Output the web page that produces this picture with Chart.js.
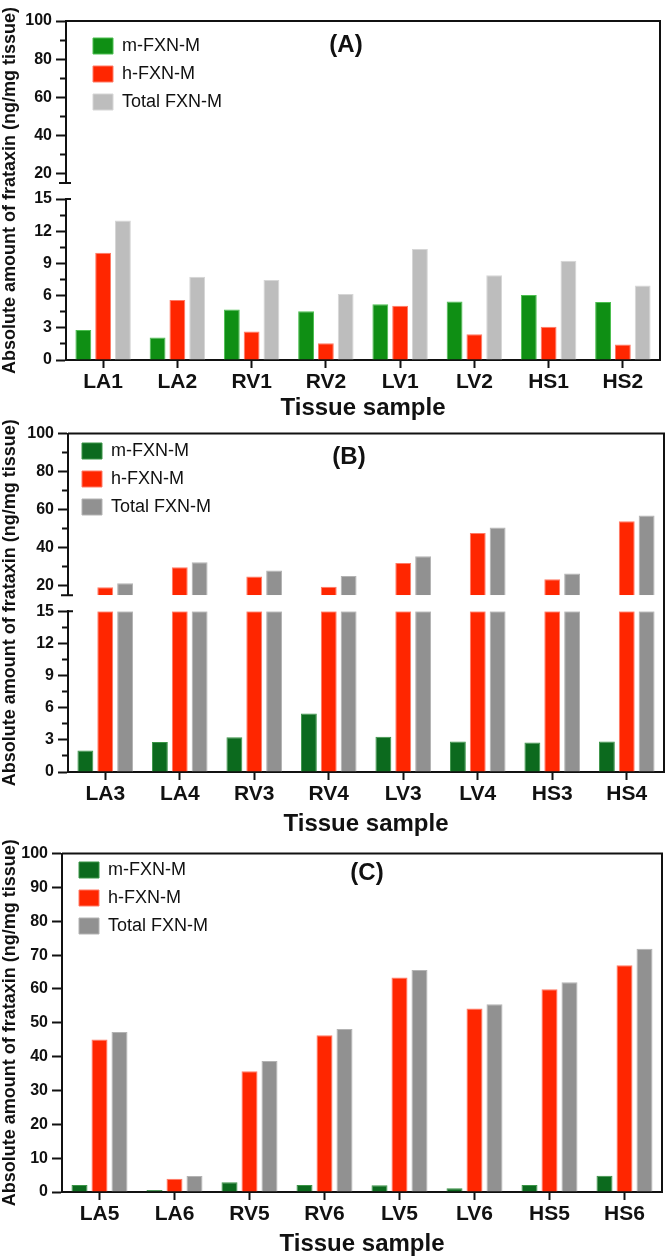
<!DOCTYPE html>
<html>
<head>
<meta charset="utf-8">
<script src="https://cdn.jsdelivr.net/npm/chart.js@4.4.1/dist/chart.umd.min.js"></script>
<style>
  body { margin: 0; background: #fff; }
  canvas { display: block; }
</style>
</head>
<body>
<canvas id="chartA" width="666" height="420"></canvas>
<canvas id="chartB" width="666" height="420"></canvas>
<canvas id="chartC" width="666" height="419"></canvas>
<script>
const seriesNames = ['m-FXN-M', 'h-FXN-M', 'Total FXN-M'];

const tissuesA = ['LA1', 'LA2', 'RV1', 'RV2', 'LV1', 'LV2', 'HS1', 'HS2'];
const mFxnA = [2.8, 2.1, 4.7, 4.55, 5.2, 5.45, 6.05, 5.4];
const hFxnA = [10.0, 5.6, 2.65, 1.55, 5.05, 2.4, 3.1, 1.45];
const totalA = [13.0, 7.75, 7.45, 6.15, 10.35, 7.9, 9.25, 6.95];

const tissuesB = ['LA3', 'LA4', 'RV3', 'RV4', 'LV3', 'LV4', 'HS3', 'HS4'];
const mFxnB = [2.0, 2.8, 3.25, 5.45, 3.3, 2.85, 2.75, 2.85];
const hFxnB = [19.3, 29.8, 24.9, 19.5, 32.0, 47.8, 23.5, 53.9];
const totalB = [21.4, 32.4, 28.0, 25.1, 35.5, 50.7, 26.5, 56.9];

const tissuesC = ['LA5', 'LA6', 'RV5', 'RV6', 'LV5', 'LV6', 'HS5', 'HS6'];
const mFxnC = [2.05, 0.6, 2.85, 2.05, 2.0, 1.1, 2.05, 4.8];
const hFxnC = [45.1, 3.9, 35.7, 46.3, 63.4, 54.2, 59.9, 67.0];
const totalC = [47.3, 4.7, 38.7, 48.2, 65.6, 55.5, 62.0, 71.9];

// axis ticks
const breakAt = 15;
const axisTop = 100;
const lowerMajor = [0, 3, 6, 9, 12, 15];
const lowerMinor = [1.5, 4.5, 7.5, 10.5, 13.5];
const upperMajor = [20, 40, 60, 80, 100];
const upperMinor = [30, 50, 70, 90];
const fullMajor = [0, 10, 20, 30, 40, 50, 60, 70, 80, 90, 100];

const ink = '#111';
Chart.defaults.font.family = "'Liberation Sans', Arial, Helvetica, sans-serif";

function valueAxis(major, minor) {
  const all = major.concat(minor).sort((a, b) => a - b);
  return {
    type: 'linear',
    position: 'left',
    stacked: false,
    afterBuildTicks: s => { s.ticks = all.map(v => ({ value: v })); },
    ticks: {
      color: ink,
      font: { size: 16, weight: 'bold' },
      padding: 4,
      autoSkip: false,
      callback: v => major.includes(v) ? v : ''
    },
    grid: {
      drawOnChartArea: false,
      tickLength: 10,
      tickWidth: 2,
      tickColor: ink,
      tickBorderDash: c => (c.tick && !major.includes(c.tick.value)) ? [0, 4, 6, 20] : []
    },
    border: { color: ink, width: 2 }
  };
}

function buildScales(p) {
  const fixW = s => { s.width = p.axisW; };
  const scales = {
    x: {
      stacked: true,
      grid: { offset: false, drawOnChartArea: false, tickLength: 8, tickWidth: 2, tickColor: ink },
      border: { color: ink, width: 2 },
      ticks: { color: ink, font: { size: 21, weight: 'bold' }, padding: 2, maxRotation: 0, autoSkip: false },
      title: {
        display: true, text: 'Tissue sample', color: ink,
        font: { size: 24, weight: 'bold', lineHeight: 1 },
        padding: { top: 0, bottom: p.titlePad }
      },
      afterFit: s => { s.height = p.xH; }
    }
  };
  if (p.broken) {
    scales.y = Object.assign(valueAxis(lowerMajor, lowerMinor), {
      min: 0, max: breakAt, stack: 'v', stackWeight: 161, afterFit: fixW
    });
    scales.yGap = {
      type: 'linear', position: 'left', stack: 'v', stackWeight: 16,
      ticks: { display: false }, grid: { display: false }, border: { display: false },
      afterFit: fixW
    };
    scales.y2 = Object.assign(valueAxis(upperMajor, upperMinor), {
      min: breakAt, max: axisTop, stack: 'v', stackWeight: 162, afterFit: fixW
    });
  } else {
    scales.y = Object.assign(valueAxis(fullMajor, []), { min: 0, max: axisTop, afterFit: fixW });
  }
  scales.yTitle = {
    type: 'linear', position: 'left',
    ticks: { display: false }, grid: { display: false }, border: { display: false },
    title: {
      display: true, text: 'Absolute amount of frataxin (ng/mg tissue)', color: ink,
      font: { size: 18, weight: 'bold', lineHeight: 1 }, padding: { top: 1, bottom: 0 }
    },
    afterFit: s => { s.width = 20; }
  };
  return scales;
}

function buildDatasets(p) {
  const series = [p.m, p.h, p.t];
  const sets = [];
  series.forEach((vals, i) => {
    sets.push({
      label: seriesNames[i], stack: 's' + i, yAxisID: 'y',
      data: p.broken ? vals.map(v => Math.min(v, breakAt)) : vals,
      backgroundColor: p.fill[i], borderColor: p.edge[i], borderWidth: 1
    });
  });
  if (p.broken) {
    series.forEach((vals, i) => {
      sets.push({
        label: seriesNames[i], stack: 's' + i, yAxisID: 'y2',
        data: vals.map(v => v > breakAt ? [breakAt, v] : null),
        backgroundColor: p.fill[i], borderColor: p.edge[i], borderWidth: 1
      });
    });
  }
  return sets;
}

// frame, axis break marks, panel letter, legend placement
const decor = {
  id: 'decor',
  beforeDraw(chart, args, o) {
    const lg = chart.legend;
    if (lg) {
      lg.left = o.legendX - 10;
      lg.top = o.legendY - 9 - 10;
    }
  },
  afterDraw(chart, args, o) {
    const { ctx, chartArea: a } = chart;
    ctx.save();
    ctx.strokeStyle = ink;
    ctx.lineWidth = 2;
    ctx.beginPath();
    ctx.moveTo(a.left, a.top);
    ctx.lineTo(a.right, a.top);
    ctx.lineTo(a.right, a.bottom);
    ctx.stroke();
    if (chart.scales.y2) {
      const up = chart.scales.y2, lo = chart.scales.y, x = lo.right - 1;
      ctx.beginPath();
      ctx.moveTo(x - 6, up.bottom);
      ctx.lineTo(x + 6, up.bottom);
      ctx.moveTo(x, lo.top);
      ctx.lineTo(x + 6, lo.top);
      ctx.stroke();
    }
    ctx.fillStyle = ink;
    ctx.font = "bold 24px 'Liberation Sans', Arial, sans-serif";
    ctx.textAlign = 'center';
    ctx.textBaseline = 'middle';
    ctx.fillText(o.tag, o.tagX, o.tagY);
    ctx.restore();
  }
};

function makePanel(id, p) {
  return new Chart(document.getElementById(id), {
    type: 'bar',
    data: { labels: p.labels, datasets: buildDatasets(p) },
    options: {
      responsive: false,
      animation: false,
      layout: { padding: { top: p.padTop, right: p.padRight, left: 0, bottom: 0 } },
      datasets: { bar: { categoryPercentage: 0.8, barPercentage: 0.8 } },
      plugins: {
        legend: {
          position: 'chartArea',
          align: 'start',
          labels: {
            filter: it => it.datasetIndex < 3,
            boxWidth: 20, boxHeight: 16, padding: 10, color: ink,
            font: { size: 18, lineHeight: 1 }
          }
        },
        tooltip: { enabled: false },
        decor: { tag: p.tag, tagX: p.tagX, tagY: p.tagY, legendX: p.legendX, legendY: p.legendY }
      },
      scales: buildScales(p)
    },
    plugins: [decor]
  });
}

const redFill = '#ff2600', redEdge = '#ff7a66';

makePanel('chartA', {
  labels: tissuesA, m: mFxnA, h: hFxnA, t: totalA, broken: true,
  fill: ['#0f8f14', redFill, '#bdbdbd'], edge: ['#4cbf50', redEdge, '#d6d6d6'],
  axisW: 46, padTop: 21, padRight: 6, xH: 60, titlePad: 0,
  legendX: 93, legendY: 46, tag: '(A)', tagX: 346, tagY: 45
});

makePanel('chartB', {
  labels: tissuesB, m: mFxnB, h: hFxnB, t: totalB, broken: true,
  fill: ['#0c6a1e', redFill, '#919191'], edge: ['#3a9446', redEdge, '#b3b3b3'],
  axisW: 48, padTop: 13, padRight: 2, xH: 68, titlePad: 3.5,
  legendX: 82, legendY: 31, tag: '(B)', tagX: 349, tagY: 37
});

makePanel('chartC', {
  labels: tissuesC, m: mFxnC, h: hFxnC, t: totalC, broken: false,
  fill: ['#0c6a1e', redFill, '#919191'], edge: ['#3a9446', redEdge, '#b3b3b3'],
  axisW: 42, padTop: 11, padRight: 4, xH: 67, titlePad: 2.5,
  legendX: 79, legendY: 30, tag: '(C)', tagX: 367, tagY: 33
});
</script>
</body>
</html>
